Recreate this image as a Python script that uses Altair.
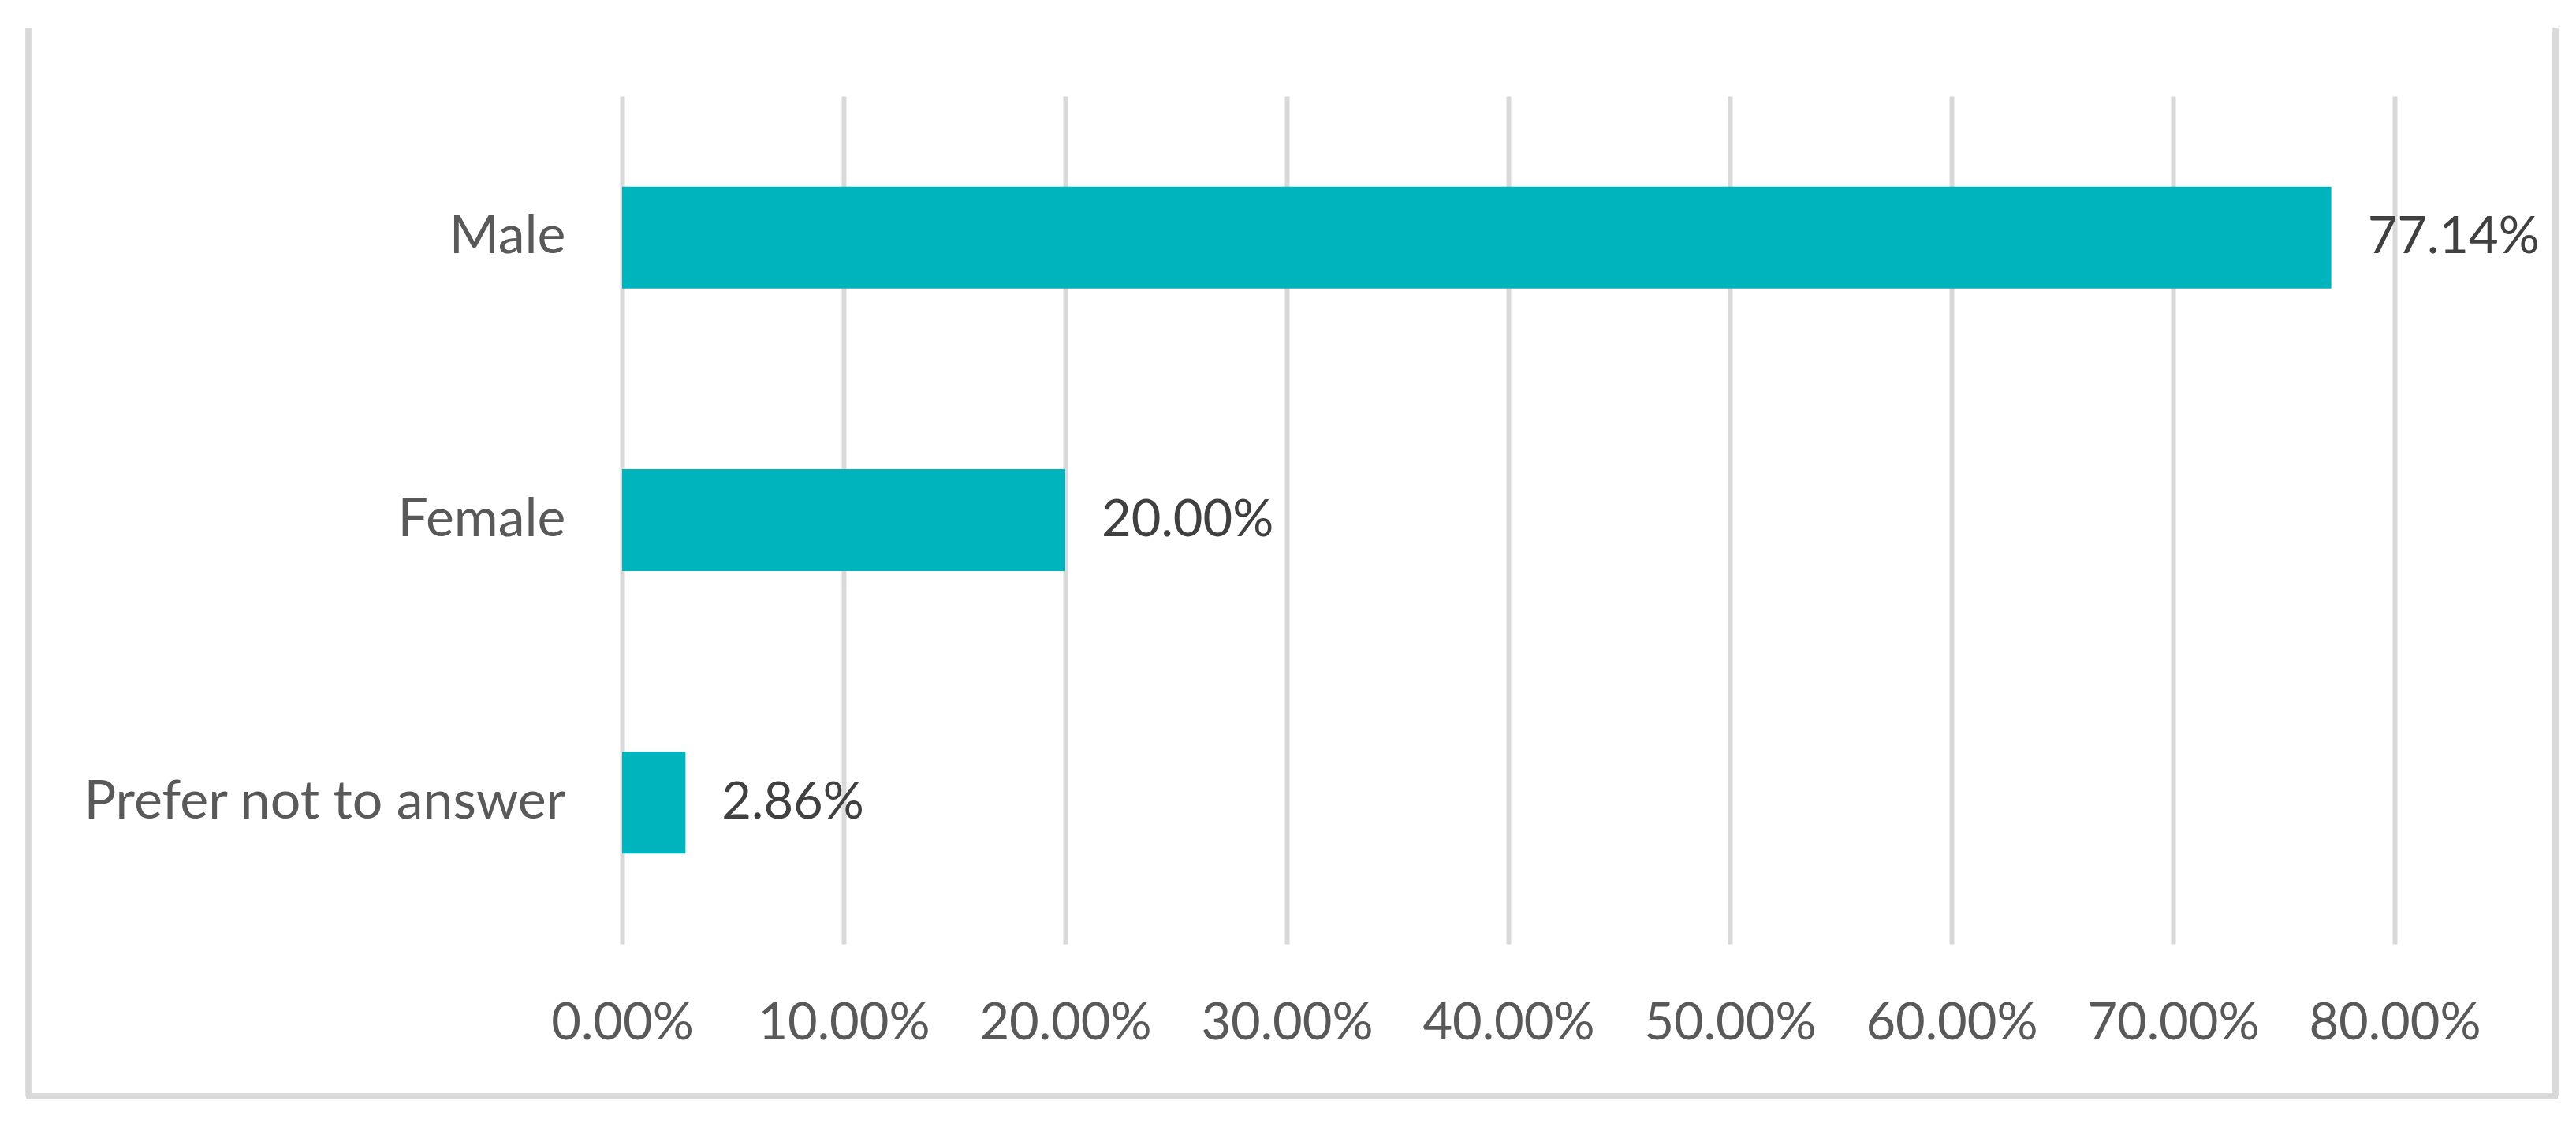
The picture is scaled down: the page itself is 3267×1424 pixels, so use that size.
import altair as alt
import pandas as pd

categories = ["Male", "Female", "Prefer not to answer"]
shares = [0.7714, 0.2000, 0.0286]
tick_values = [0.0, 0.1, 0.2, 0.3, 0.4, 0.5, 0.6, 0.7, 0.8]

df = pd.DataFrame({"category": categories, "share": shares})

FONT = "Lato"
W, H = 2248, 1075

x_enc = alt.X(
    "share:Q",
    scale=alt.Scale(domain=[0, 0.8], nice=False, zero=True),
    axis=alt.Axis(
        values=tick_values,
        format=".2%",
        title=None,
        domain=False,
        ticks=False,
        tickSize=0,
        grid=True,
        gridColor="#d9d9d9",
        gridWidth=6,
        labelFont=FONT,
        labelFontSize=65,
        labelColor="#595959",
        labelBaseline="alphabetic",
        labelPadding=120,
        labelFlush=False,
        labelOverlap=False,
        labelLimit=1000,
    ),
)
y_enc = alt.Y(
    "category:N",
    sort=categories,
    scale=alt.Scale(paddingInner=0.64, paddingOuter=0.32),
    axis=alt.Axis(
        title=None,
        domain=False,
        ticks=False,
        tickSize=0,
        grid=False,
        labelFont=FONT,
        labelFontSize=68,
        labelColor="#595959",
        labelPadding=72,
        labelLimit=1000,
    ),
)

bars = alt.Chart(df).mark_bar(color="#00B4BE").encode(x=x_enc, y=y_enc)

labels = alt.Chart(df).mark_text(
    align="left", baseline="middle", dx=46, font=FONT, fontSize=65, color="#404040"
).encode(
    x=alt.X("share:Q"),
    y=alt.Y("category:N", sort=categories),
    text=alt.Text("share:Q", format=".2%"),
)

border_col = "#d9d9d9"
left_border = alt.Chart(df).mark_rule(color=border_col, strokeWidth=7, clip=False).encode(
    x=alt.value(-753), y=alt.value(-87), y2=alt.value(1268)
)
right_border = alt.Chart(df).mark_rule(color=border_col, strokeWidth=7, clip=False).encode(
    x=alt.value(2452), y=alt.value(-87), y2=alt.value(1268)
)
bottom_border = alt.Chart(df).mark_rule(color=border_col, strokeWidth=7, clip=False).encode(
    x=alt.value(-756), x2=alt.value(2455), y=alt.value(1268)
)

chart = (
    alt.layer(bars, labels, left_border, right_border, bottom_border)
    .properties(
        width=W,
        height=H,
        autosize=alt.AutoSizeParams(type="none"),
        padding={"left": 781, "top": 114, "right": 220, "bottom": 200},
        background="white",
    )
    .configure_view(stroke=None)
)

chart.save("out.html", embed_options={"renderer": "svg", "actions": False})
